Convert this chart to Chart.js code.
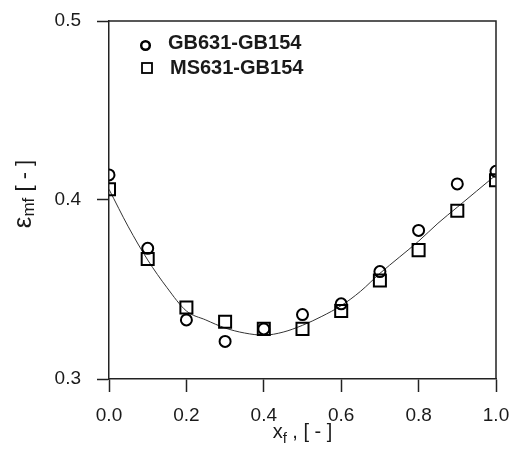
<!DOCTYPE html>
<html>
<head>
<meta charset="utf-8">
<script src="https://cdn.jsdelivr.net/npm/chart.js@4/dist/chart.umd.min.js"></script>
<style>
html,body{margin:0;padding:0;background:#fff;}
canvas{display:block;}
</style>
</head>
<body>
<canvas id="c" width="511" height="457"></canvas>
<script>
// ---- data ----
const xValues = [0.0, 0.1, 0.2, 0.3, 0.4, 0.5, 0.6, 0.7, 0.8, 0.9, 1.0];
const gbValues = [0.414, 0.373, 0.333, 0.321, 0.328, 0.336, 0.342, 0.360, 0.383, 0.409, 0.416];
const msValues = [0.406, 0.367, 0.340, 0.332, 0.328, 0.328, 0.338, 0.355, 0.372, 0.394, 0.411];
const fitX = [0.0, 0.05, 0.1, 0.15, 0.2, 0.25, 0.3, 0.35, 0.4, 0.45, 0.5, 0.55, 0.6, 0.65, 0.7, 0.75, 0.8, 0.85, 0.9, 0.95, 1.0];
const fitY = [0.406, 0.385, 0.3665, 0.351, 0.338, 0.333, 0.3285, 0.3257, 0.3245, 0.3262, 0.330, 0.335, 0.341, 0.349, 0.359, 0.368, 0.377, 0.387, 0.396, 0.405, 0.414];
const seriesNames = ['GB631-GB154', 'MS631-GB154'];
const xTicks = [0.0, 0.2, 0.4, 0.6, 0.8, 1.0];
const yTicks = [0.3, 0.4, 0.5];

const FONT = '"Liberation Sans", Arial, sans-serif';
const INK = '#1a1a1a';
const AX = '#222';

const toPts = (xs, ys) => xs.map((x, i) => ({x: x, y: ys[i]}));

const framePlugin = {
  id: 'frame',
  afterDraw(chart) {
    const ctx = chart.ctx;
    const a = chart.chartArea;
    ctx.save();
    ctx.strokeStyle = AX;
    ctx.lineWidth = 1.5;
    ctx.beginPath();
    ctx.moveTo(a.left, a.top);
    ctx.lineTo(a.right, a.top);
    ctx.lineTo(a.right, a.bottom);
    ctx.stroke();

    // legend
    const ds = chart.data.datasets;
    ctx.fillStyle = INK;
    ctx.font = 'bold 20px ' + FONT;
    ctx.textBaseline = 'middle';
    ctx.textAlign = 'left';
    ctx.strokeStyle = '#000';
    ctx.lineWidth = 2.5;
    ctx.beginPath();
    ctx.arc(a.left + 36.5, a.top + 24.5, 4.3, 0, Math.PI * 2);
    ctx.stroke();
    ctx.fillText(ds[0].label, a.left + 59, a.top + 22.5);
    ctx.lineWidth = 1.8;
    ctx.strokeRect(a.left + 33, a.top + 42, 10, 10);
    ctx.fillText(ds[1].label, a.left + 61, a.top + 47.5);

    // x title: x_f , [ - ]
    ctx.fillStyle = INK;
    ctx.textBaseline = 'alphabetic';
    const xMain = '20px ' + FONT, xSub = '15px ' + FONT;
    ctx.font = xMain; const w1 = ctx.measureText('x').width;
    ctx.font = xSub;  const w2 = ctx.measureText('f').width;
    ctx.font = xMain; const w3 = ctx.measureText(' , [ - ]').width;
    let xs = (a.left + a.right) / 2 - (w1 + w2 + w3) / 2;
    const xb = 438;
    ctx.font = xMain; ctx.fillText('x', xs, xb); xs += w1;
    ctx.font = xSub;  ctx.fillText('f', xs, xb + 5); xs += w2;
    ctx.font = xMain; ctx.fillText(' , [ - ]', xs, xb);

    // y title: ε_mf [ - ]  (rotated)
    ctx.translate(31, 0);
    ctx.rotate(-Math.PI / 2);
    const yE = '26px ' + FONT, ySub = '17px ' + FONT, yMain = '22px ' + FONT;
    ctx.font = yE;    const v1 = ctx.measureText('ε').width;
    ctx.font = ySub;  const v2 = ctx.measureText('mf').width;
    ctx.font = yMain; const v3 = ctx.measureText(' [ - ]').width;
    let ys = -(194 + (v1 + v2 + v3) / 2);
    ctx.font = yE;    ctx.fillText('ε', ys, 0); ys += v1;
    ctx.font = ySub;  ctx.fillText('mf', ys, 3); ys += v2;
    ctx.font = yMain; ctx.fillText(' [ - ]', ys, 0);
    ctx.restore();
  }
};

new Chart(document.getElementById('c'), {
  type: 'scatter',
  data: {
    datasets: [
      {
        label: seriesNames[0],
        data: toPts(xValues, gbValues),
        pointStyle: 'circle',
        pointRadius: 5.5,
        pointBorderWidth: 2,
        pointBorderColor: '#000',
        pointBackgroundColor: 'rgba(0,0,0,0)',
        showLine: false,
        order: 2
      },
      {
        label: seriesNames[1],
        data: toPts(xValues, msValues),
        pointStyle: 'rect',
        pointRadius: 8.5,
        pointBorderWidth: 2,
        pointBorderColor: '#000',
        pointBackgroundColor: 'rgba(0,0,0,0)',
        showLine: false,
        order: 1
      },
      {
        label: 'fit',
        data: toPts(fitX, fitY),
        showLine: true,
        pointRadius: 0,
        borderColor: '#333',
        borderWidth: 1,
        cubicInterpolationMode: 'monotone',
        fill: false,
        order: 3
      }
    ]
  },
  options: {
    responsive: false,
    animation: false,
    devicePixelRatio: 1,
    layout: { padding: { top: 21, right: 15, left: 0, bottom: 0 } },
    plugins: {
      legend: { display: false },
      tooltip: { enabled: false },
      title: { display: false }
    },
    scales: {
      x: {
        type: 'linear',
        min: 0, max: 1,
        afterBuildTicks: (s) => { s.ticks = xTicks.map(v => ({value: v})); },
        afterFit: (s) => { s.height = 78; s.paddingLeft = 0; s.paddingRight = 0; },
        ticks: {
          callback: (v) => Number(v).toFixed(1),
          font: { family: FONT, size: 19 },
          color: INK,
          padding: 12,
          maxRotation: 0,
          autoSkip: false
        },
        grid: {
          display: true,
          drawOnChartArea: false,
          drawTicks: true,
          tickLength: 13,
          tickColor: AX,
          tickWidth: 1.5
        },
        border: { display: true, color: AX, width: 1.5 }
      },
      y: {
        type: 'linear',
        min: 0.3, max: 0.5,
        afterBuildTicks: (s) => { s.ticks = yTicks.map(v => ({value: v})); },
        afterFit: (s) => { s.width = 109; s.paddingTop = 0; s.paddingBottom = 0; },
        ticks: {
          callback: (v) => Number(v).toFixed(1),
          font: { family: FONT, size: 19 },
          color: INK,
          padding: 16,
          autoSkip: false
        },
        grid: {
          display: true,
          drawOnChartArea: false,
          drawTicks: true,
          tickLength: 12,
          tickColor: AX,
          tickWidth: 1.5
        },
        border: { display: true, color: AX, width: 1.5 }
      }
    }
  },
  plugins: [framePlugin]
});
</script>
</body>
</html>
